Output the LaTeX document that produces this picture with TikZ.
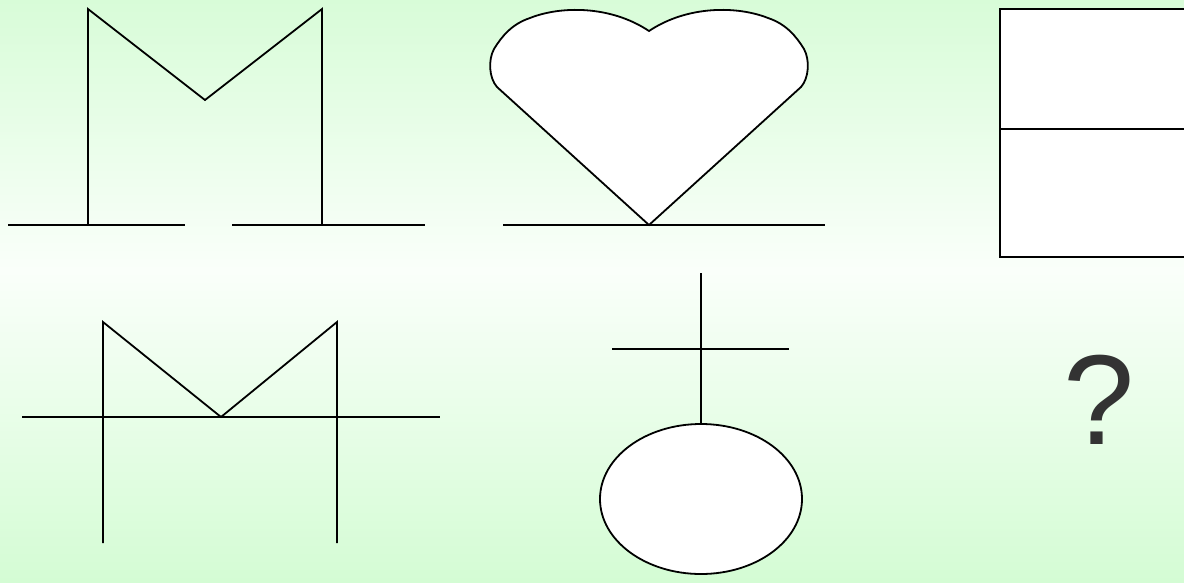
\documentclass[tikz,border=0pt]{standalone}
\usepackage{fontspec}
\setmainfont{Liberation Sans}
\definecolor{bgtop}{RGB}{216, 252, 216}
\definecolor{bgmid}{RGB}{250, 255, 250}
\definecolor{bgbot}{RGB}{212, 252, 212}
\definecolor{markgray}{RGB}{51, 51, 51}
\usetikzlibrary{positioning}

\tikzset{
  stroke/.style={draw=black, line width=1.8pt},
  filled/.style={stroke, fill=white}
}

\begin{document}
\begin{tikzpicture}[x=1pt, y=-1pt]
  % background
  \shade[top color=bgtop, bottom color=bgmid] (0,0) rectangle (1184,270);
  \shade[top color=bgmid, bottom color=bgbot] (0,270) rectangle (1184,582);
  \useasboundingbox (0,0) rectangle (1184,582);

  % M with two feet
  \draw[stroke] (88,224) -- (88,9) -- (205,100) -- (322,9) -- (322,224);
  \draw[stroke] (8,225) -- (185,225);
  \draw[stroke] (232,225) -- (425,225);

  % heart
  \draw[filled] (649,225) -- (497,87) .. controls (489,78) and (488,60) .. (494,49)
    .. controls (502,36) and (512,24) .. (530,18)
    .. controls (560,6) and (610,5) .. (649,31)
    .. controls (688,5) and (738,6) .. (768,18)
    .. controls (786,24) and (796,36) .. (804,49)
    .. controls (810,60) and (809,78) .. (801,87) -- cycle;
  \draw[stroke] (503,225) -- (825,225);

  % split box
  \draw[filled] (1200,9) -- (1000,9) -- (1000,257) -- (1200,257);
  \draw[stroke] (1000,129) -- (1200,129);

  % crossed M
  \draw[stroke] (103,543) -- (103,322) -- (221,417) -- (337,322) -- (337,543);
  \draw[stroke] (22,417) -- (440,417);

  % cross on ball
  \draw[stroke] (701,273) -- (701,424);
  \draw[stroke] (612,349) -- (789,349);
  \draw[filled] (701,499) ellipse [x radius=101, y radius=75];

  % missing one
  \node[text=markgray, font=\fontsize{128}{128}\selectfont, inner sep=0pt] (ask) at (1099,400) {?};
\end{tikzpicture}
\end{document}
